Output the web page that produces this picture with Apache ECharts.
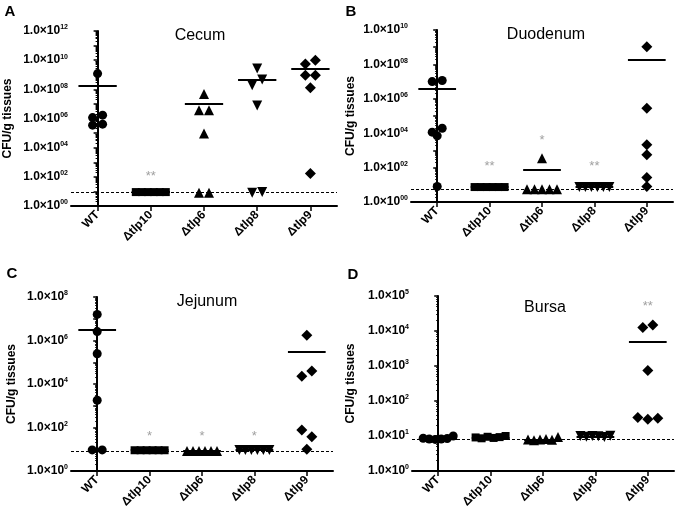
<!DOCTYPE html>
<html>
<head>
<meta charset="utf-8">
<script src="https://cdn.jsdelivr.net/npm/echarts@6/dist/echarts.min.js"></script>
<style>
  html, body { margin: 0; padding: 0; background: #fff; }
  #main { width: 680px; height: 516px; }
</style>
</head>
<body>
<div id="main"></div>
<script>
// 分组
const groups = ['WT', 'Δtlp10', 'Δtlp6', 'Δtlp8', 'Δtlp9'];

// A - Cecum
const cecumWT    = [1.2e9, 1.15e6, 1.7e6, 3.5e5, 4.1e5];
const cecumTlp10 = [9, 9, 9, 9, 9, 9];
const cecumTlp6  = [4.7e7, 3.7e6, 3.7e6, 9.3e4, 8, 8];
const cecumTlp8  = [2.7e9, 1.9e8, 4.7e8, 7.8e6, 8, 9];
const cecumTlp9  = [5.4e9, 1.0e10, 9.3e8, 9.3e8, 1.3e8, 166];
const cecumMeans = [1.9e8, 9, 9.5e6, 4.7e8, 2.5e9];
const cecumLimit = 9;
const cecumStars = ['', '**', '', '', ''];
const cecumStarAt = [null, 100, null, null, null];

// B - Duodenum
const duoWT    = [1.0e7, 1.15e7, 1.15e4, 7.0e3, 1.95e4, 8];
const duoTlp10 = [7.4, 7.4, 7.4, 7.4, 7.4, 7.4];
const duoTlp6  = [355, 5.6, 5.6, 5.6, 5.6, 5.6];
const duoTlp8  = [7.4, 7.4, 7.4, 7.4, 7.4, 7.4];
const duoTlp9  = [1.07e9, 2.8e5, 2.1e3, 560, 27, 8];
const duoMeans = [3.6e6, 7.4, 76, 7.4, 1.75e8];
const duoLimit = 5.6;
const duoStars = ['', '**', '*', '**', ''];
const duoStarAt = [null, 117, 4000, 117, null];

// C - Jejunum
const jejWT    = [1.58e7, 2.57e6, 2.45e5, 1.78e3, 9.3, 9.3];
const jejTlp10 = [9, 9, 9, 9, 9, 9];
const jejTlp6  = [8.3, 8.3, 8.3, 8.3, 8.3, 8.3];
const jejTlp8  = [9.3, 9.3, 9.3, 9.3, 9.3, 9.3];
const jejTlp9  = [1.74e6, 2.3e4, 4.0e4, 76, 38, 10];
const jejMeans = [3.2e6, 9, 8.3, 9.3, 3.1e5];
const jejLimit = 7.8;
const jejStars = ['', '*', '*', '*', ''];
const jejStarAt = [null, 38, 38, 38, null];

// D - Bursa
const bursaWT    = [8.6, 8.2, 8.0, 8.2, 8.5, 10];
const bursaTlp10 = [9.1, 8.6, 9.5, 8.8, 9.3, 10];
const bursaTlp6  = [8.0, 7.6, 8.0, 8.2, 7.8, 9.3];
const bursaTlp8  = [10, 9.5, 10, 9.8, 9.3, 10.2];
const bursaTlp9  = [1.26e4, 1.48e4, 741, 34, 30, 32];
const bursaMeans = [8.5, 9.2, 8, 9.8, 4.8e3];
const bursaLimit = 8;
const bursaStars = ['', '', '', '', '**'];
const bursaStarAt = [null, null, null, null, 5e4];

const FONT = '"Liberation Sans", Arial, sans-serif';

const panels = [
  { letter: 'A', title: 'Cecum', sets: [cecumWT, cecumTlp10, cecumTlp6, cecumTlp8, cecumTlp9],
    means: cecumMeans, limit: cecumLimit, stars: cecumStars, starAt: cecumStarAt,
    maxExp: 12, labelEvery: 2, pad: true, nameGap: 57,
    box: { left: 71, top: 31, width: 266, height: 175 }, letterPos: [10, 12], titlePos: [200, 36] },
  { letter: 'B', title: 'Duodenum', sets: [duoWT, duoTlp10, duoTlp6, duoTlp8, duoTlp9],
    means: duoMeans, limit: duoLimit, stars: duoStars, starAt: duoStarAt,
    maxExp: 10, labelEvery: 2, pad: true, nameGap: 54,
    box: { left: 411, top: 30, width: 262, height: 172 }, letterPos: [351, 12], titlePos: [546, 35] },
  { letter: 'C', title: 'Jejunum', sets: [jejWT, jejTlp10, jejTlp6, jejTlp8, jejTlp9],
    means: jejMeans, limit: jejLimit, stars: jejStars, starAt: jejStarAt,
    maxExp: 8, labelEvery: 2, pad: false, nameGap: 53,
    box: { left: 71, top: 297, width: 262, height: 174 }, letterPos: [12, 274], titlePos: [207, 302] },
  { letter: 'D', title: 'Bursa', sets: [bursaWT, bursaTlp10, bursaTlp6, bursaTlp8, bursaTlp9],
    means: bursaMeans, limit: bursaLimit, stars: bursaStars, starAt: bursaStarAt,
    maxExp: 5, labelEvery: 1, pad: false, nameGap: 55,
    box: { left: 412, top: 296, width: 262, height: 175 }, letterPos: [353, 275], titlePos: [545, 308] }
];

const symbols = [
  { symbol: 'circle', size: 9, rotate: 0 },
  { symbol: 'rect', size: 8, rotate: 0 },
  { symbol: 'triangle', size: 10, rotate: 0 },
  { symbol: 'triangle', size: 10, rotate: 180 },
  { symbol: 'diamond', size: 11, rotate: 0 }
];

// 简单的蜂群排布：数值相近的点左右错开（组内按原顺序从左到右）
function swarm(values, pxPerLog, thresh) {
  const idx = values.map((v, i) => i).sort((a, b) => values[b] - values[a]);
  const off = new Array(values.length).fill(0);
  let k = 0;
  while (k < idx.length) {
    const start = k;
    const y0 = Math.log10(values[idx[k]]) * pxPerLog;
    while (k + 1 < idx.length && y0 - Math.log10(values[idx[k + 1]]) * pxPerLog < thresh) k++;
    const members = idx.slice(start, k + 1).sort((a, b) => a - b);
    const n = members.length;
    const step = n > 1 ? Math.min(10, 30 / (n - 1)) : 0;
    members.forEach((m, j) => { off[m] = (j - (n - 1) / 2) * step; });
    k++;
  }
  return off;
}

const grid = [], xAxis = [], yAxis = [], series = [], graphic = [];

panels.forEach((p, pi) => {
  grid.push(Object.assign({ containLabel: false }, p.box));
  const pxPerLog = p.box.height / p.maxExp;
  const pxPerCat = p.box.width / groups.length;

  // 类目轴（显示）
  xAxis.push({
    type: 'category', gridIndex: pi, data: groups, boundaryGap: true,
    axisLine: { show: true, lineStyle: { color: '#000', width: 2 } },
    axisTick: { show: true, alignWithLabel: true, length: 5, lineStyle: { color: '#000', width: 1.5 } },
    axisLabel: { rotate: 45, margin: 7, color: '#000', fontSize: 12, fontWeight: 'bold', fontFamily: FONT },
    splitLine: { show: false }
  });
  // 数值轴（隐藏，用来放散点）
  xAxis.push({ type: 'value', gridIndex: pi, min: -0.5, max: 4.5, show: false });

  yAxis.push({
    type: 'log', logBase: 10, gridIndex: pi, min: 1, max: Math.pow(10, p.maxExp), interval: 1,
    name: 'CFU/g tissues', nameLocation: 'middle', nameGap: p.nameGap,
    nameTextStyle: { color: '#000', fontSize: 12, fontWeight: 'bold', fontFamily: FONT },
    axisLine: { show: true, lineStyle: { color: '#000', width: 2 } },
    axisTick: { show: true, length: 4, lineStyle: { color: '#000', width: 1.5 } },
    minorTick: { show: true, splitNumber: 9, length: 2, lineStyle: { color: '#000', width: 1 } },
    splitLine: { show: false },
    axisLabel: {
      margin: 3, color: '#000', interval: 0,
      formatter: v => {
        const e = Math.round(Math.log10(v));
        if (e % p.labelEvery !== 0) return '';
        const s = p.pad ? String(e).padStart(2, '0') : String(e);
        return '{b|1.0×10}{s|' + s + '}';
      },
      rich: {
        b: { fontSize: 12, fontWeight: 'bold', fontFamily: FONT, color: '#000', lineHeight: 14 },
        s: { fontSize: 7, fontWeight: 'bold', fontFamily: FONT, color: '#000', lineHeight: 14, verticalAlign: 'top' }
      }
    }
  });

  p.sets.forEach((vals, g) => {
    const off = swarm(vals, pxPerLog, 7);
    const markData = [[
      { coord: [g - 0.36, p.means[g]] },
      { coord: [g + 0.36, p.means[g]] }
    ]];
    if (g === 0) {
      markData.push({ yAxis: p.limit, lineStyle: { color: '#000', width: 1, type: [3, 2] } });
    }
    series.push({
      type: 'scatter', xAxisIndex: pi * 2 + 1, yAxisIndex: pi,
      symbol: symbols[g].symbol, symbolSize: symbols[g].size, symbolRotate: symbols[g].rotate,
      itemStyle: { color: '#000', opacity: 1 },
      data: vals.map((v, j) => [g + off[j] / pxPerCat, v]),
      markLine: {
        silent: true, symbol: 'none', animation: false,
        label: { show: false },
        lineStyle: { color: '#000', width: 2, type: 'solid' },
        data: markData
      },
      z: 3
    });
  });

  // 星号
  const starData = [];
  p.stars.forEach((s, g) => { if (s) starData.push([g, p.starAt[g], s]); });
  series.push({
    type: 'scatter', xAxisIndex: pi * 2 + 1, yAxisIndex: pi,
    symbolSize: 1, itemStyle: { color: 'rgba(0,0,0,0)' },
    label: { show: true, position: 'inside', formatter: d => d.data[2], color: '#888', fontSize: 13, fontFamily: FONT },
    data: starData, silent: true
  });

  graphic.push({
    type: 'text', x: p.letterPos[0], y: p.letterPos[1],
    style: { text: p.letter, fill: '#000', font: 'bold 15px ' + FONT, textAlign: 'center', textVerticalAlign: 'middle' }
  });
  graphic.push({
    type: 'text', x: p.titlePos[0], y: p.titlePos[1],
    style: { text: p.title, fill: '#000', font: '16px ' + FONT, textAlign: 'center', textVerticalAlign: 'middle' }
  });
});

const chart = echarts.init(document.getElementById('main'));
chart.setOption({
  backgroundColor: '#fff',
  animation: false,
  grid: grid,
  xAxis: xAxis,
  yAxis: yAxis,
  series: series,
  graphic: graphic
});
</script>
</body>
</html>
